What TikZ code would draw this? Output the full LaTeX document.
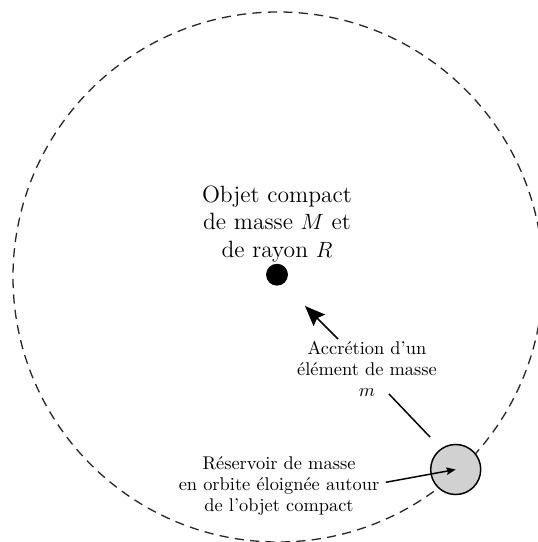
\documentclass[tikz,border=0pt]{standalone}
\usetikzlibrary{arrows.meta}

\begin{document}
\begin{tikzpicture}[x=0.5435pt, y=0.5435pt,
    orbite/.style={dash pattern=on 5pt off 3.4pt, line width=0.7pt, black!85},
    fleche/.style={-{Stealth[length=#1, width=0.8*#1, inset=0.15*#1]}, line width=0.8pt},
    texte/.style={align=center, font=\fontsize{10}{11.5}\selectfont}]
  \useasboundingbox (0,0) rectangle (538,542);

  % orbite du reservoir
  \draw[orbite] (278,265) circle[radius=265];

  % objet central
  \node[circle, fill=black, inner sep=0pt, minimum size=11.9pt] (objet) at (277,267.3) {};
  \node[align=center, font=\fontsize{12.8}{15}\selectfont] (objettxt) at (277,318) {Objet compact\\de masse $M$ et\\de rayon $R$};

  % reservoir de masse
  \node[circle, draw, fill=black!18, line width=0.8pt, inner sep=0pt, minimum size=27.2pt] (reservoir) at (455.7,72.5) {};
  \node[texte] (reservoirtxt) at (279,56) {R\'eservoir de masse\\en orbite \'eloign\'ee autour\\de l'objet compact};
  \draw[fleche=5pt] ([yshift=2pt]reservoirtxt.east) -- (reservoir.center);

  % accretion
  \node[texte] (accretion) at (367,173) {Accr\'etion d'un\\\'el\'ement de masse\\$m$};
  \coordinate (acctop) at (338,203);
  \coordinate (accpointe) at (305,236);
  \coordinate (mdebut) at (389,148);
  \coordinate (mfin) at (430,105);
  \draw[fleche=11pt] (acctop) -- (accpointe);
  \draw[line width=0.8pt] (mdebut) -- (mfin);
\end{tikzpicture}
\end{document}
